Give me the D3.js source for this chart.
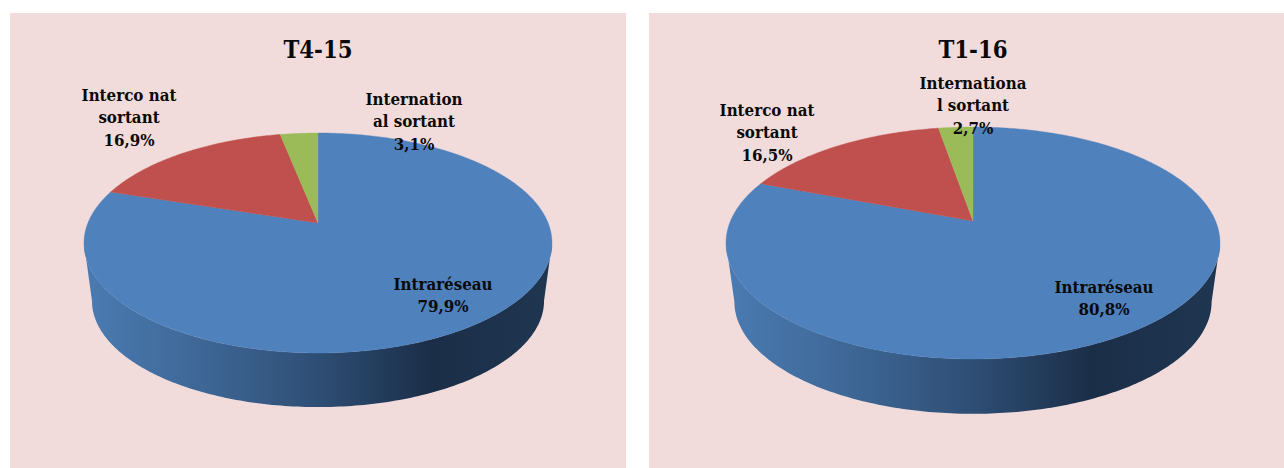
<!DOCTYPE html>
<html>
<head>
<meta charset="utf-8">
<script src="https://cdn.jsdelivr.net/npm/d3@7"></script>
<style>
  html, body { margin: 0; padding: 0; background: #fff; }
  svg { display: block; }
  text { font-family: "DejaVu Serif Condensed", "DejaVu Serif", serif; font-weight: bold; fill: #0a0a0a; text-anchor: middle; }
</style>
</head>
<body>
<div id="chart"></div>
<script>
const categories = ["Intraréseau", "Interco nat sortant", "International sortant"];
const colors = ["#4f81bd", "#c0504d", "#9bbb59"];
const valuesT415 = [79.9, 16.9, 3.1];
const valuesT116 = [80.8, 16.5, 2.7];

const charts = [
  {
    id: "a", title: "T4-15", values: valuesT415,
    panel: {x: 10, w: 616}, titleY: 58,
    cx: 318, apexY: 223, rx: 234, far: 90, near: 130, depthApexY: 281.5,
    labels: [
      {lines: ["Intraréseau"], x: 443, y: 290},
      {lines: ["Interco nat", "sortant"], x: 129, y: 101},
      {lines: ["Internation", "al sortant"], x: 414, y: 105}
    ]
  },
  {
    id: "b", title: "T1-16", values: valuesT116,
    panel: {x: 649, w: 635}, titleY: 58,
    cx: 973, apexY: 221, rx: 247, far: 94, near: 138, depthApexY: 280.5,
    labels: [
      {lines: ["Intraréseau"], x: 1104, y: 293},
      {lines: ["Interco nat", "sortant"], x: 767, y: 116},
      {lines: ["Internationa", "l sortant"], x: 973, y: 89}
    ]
  }
];

const W = 1284, H = 468, lineH = 22.3;
const bottomScale = 0.966;
const fmt = d3.formatLocale({decimal: ",", thousands: " ", grouping: [3], currency: ["", ""]}).format(".1f");

const svg = d3.select("#chart").append("svg").attr("width", W).attr("height", H);
svg.append("rect").attr("width", W).attr("height", H).attr("fill", "#fff");

const defs = svg.append("defs");

// the tilted disc is a circle seen in perspective: far edge squeezed, near edge stretched
function rim(c, apexY, scale) {
  const k = (c.near - c.far) / (c.near + c.far);
  const B = c.far * (1 + k) * scale;
  const A = c.rx * Math.sqrt(1 - k * k) * scale;
  return function(a) {
    const u = Math.sin(a), v = Math.cos(a), d = 1 + k * v;
    return [c.cx + A * u / d, apexY - B * v / d];
  };
}

charts.forEach(function(c) {
  const g = svg.append("g").attr("id", "chart-" + c.id);

  g.append("rect")
    .attr("x", c.panel.x).attr("y", 13)
    .attr("width", c.panel.w).attr("height", H - 13)
    .attr("fill", "#f2dcdb");

  g.append("text")
    .attr("x", c.cx).attr("y", c.titleY)
    .style("font-size", "23.7px")
    .text(c.title);

  const top = rim(c, c.apexY, 1);
  const bottom = rim(c, c.depthApexY, bottomScale);
  const line = d3.line();

  // side wall, runs along the near half of the disc
  const grad = defs.append("linearGradient")
    .attr("id", "side-" + c.id)
    .attr("x1", "0").attr("x2", "1").attr("y1", "0").attr("y2", "0");
  [[0, "#4a7bb2"], [0.25, "#3e6796"], [0.5, "#2e4e75"], [0.74, "#1b2e48"], [1, "#1f3651"]].forEach(function(s) {
    grad.append("stop").attr("offset", s[0]).attr("stop-color", s[1]);
  });

  // start at the widest point of the rim so the wall joins the silhouette without a notch
  const k = (c.near - c.far) / (c.near + c.far);
  const a0 = Math.acos(-k), a1 = 2 * Math.PI - a0;
  const steps = d3.range(0, 181).map(function(i) { return a0 + (a1 - a0) * i / 180; });
  const sidePts = steps.map(top).concat(steps.slice().reverse().map(bottom));
  g.append("path")
    .attr("d", line(sidePts) + "Z")
    .attr("fill", "url(#side-" + c.id + ")");

  // top face slices, clockwise from 12 o'clock
  const pie = d3.pie().sort(null)(c.values);
  pie.forEach(function(s, i) {
    const n = Math.max(2, Math.ceil((s.endAngle - s.startAngle) * 90));
    const pts = d3.range(0, n + 1).map(function(j) {
      return top(s.startAngle + (s.endAngle - s.startAngle) * j / n);
    });
    g.append("path")
      .attr("d", line([[c.cx, c.apexY]].concat(pts)) + "Z")
      .attr("fill", colors[i])
      .attr("stroke", colors[i])
      .attr("stroke-width", 0.4);
  });

  // data labels
  c.labels.forEach(function(l, i) {
    const t = g.append("text").attr("aria-label", categories[i]).style("font-size", "16.8px");
    l.lines.concat(fmt(c.values[i]) + "%").forEach(function(str, j) {
      t.append("tspan").attr("x", l.x).attr("y", l.y + j * lineH).text(str);
    });
  });
});
</script>
</body>
</html>
